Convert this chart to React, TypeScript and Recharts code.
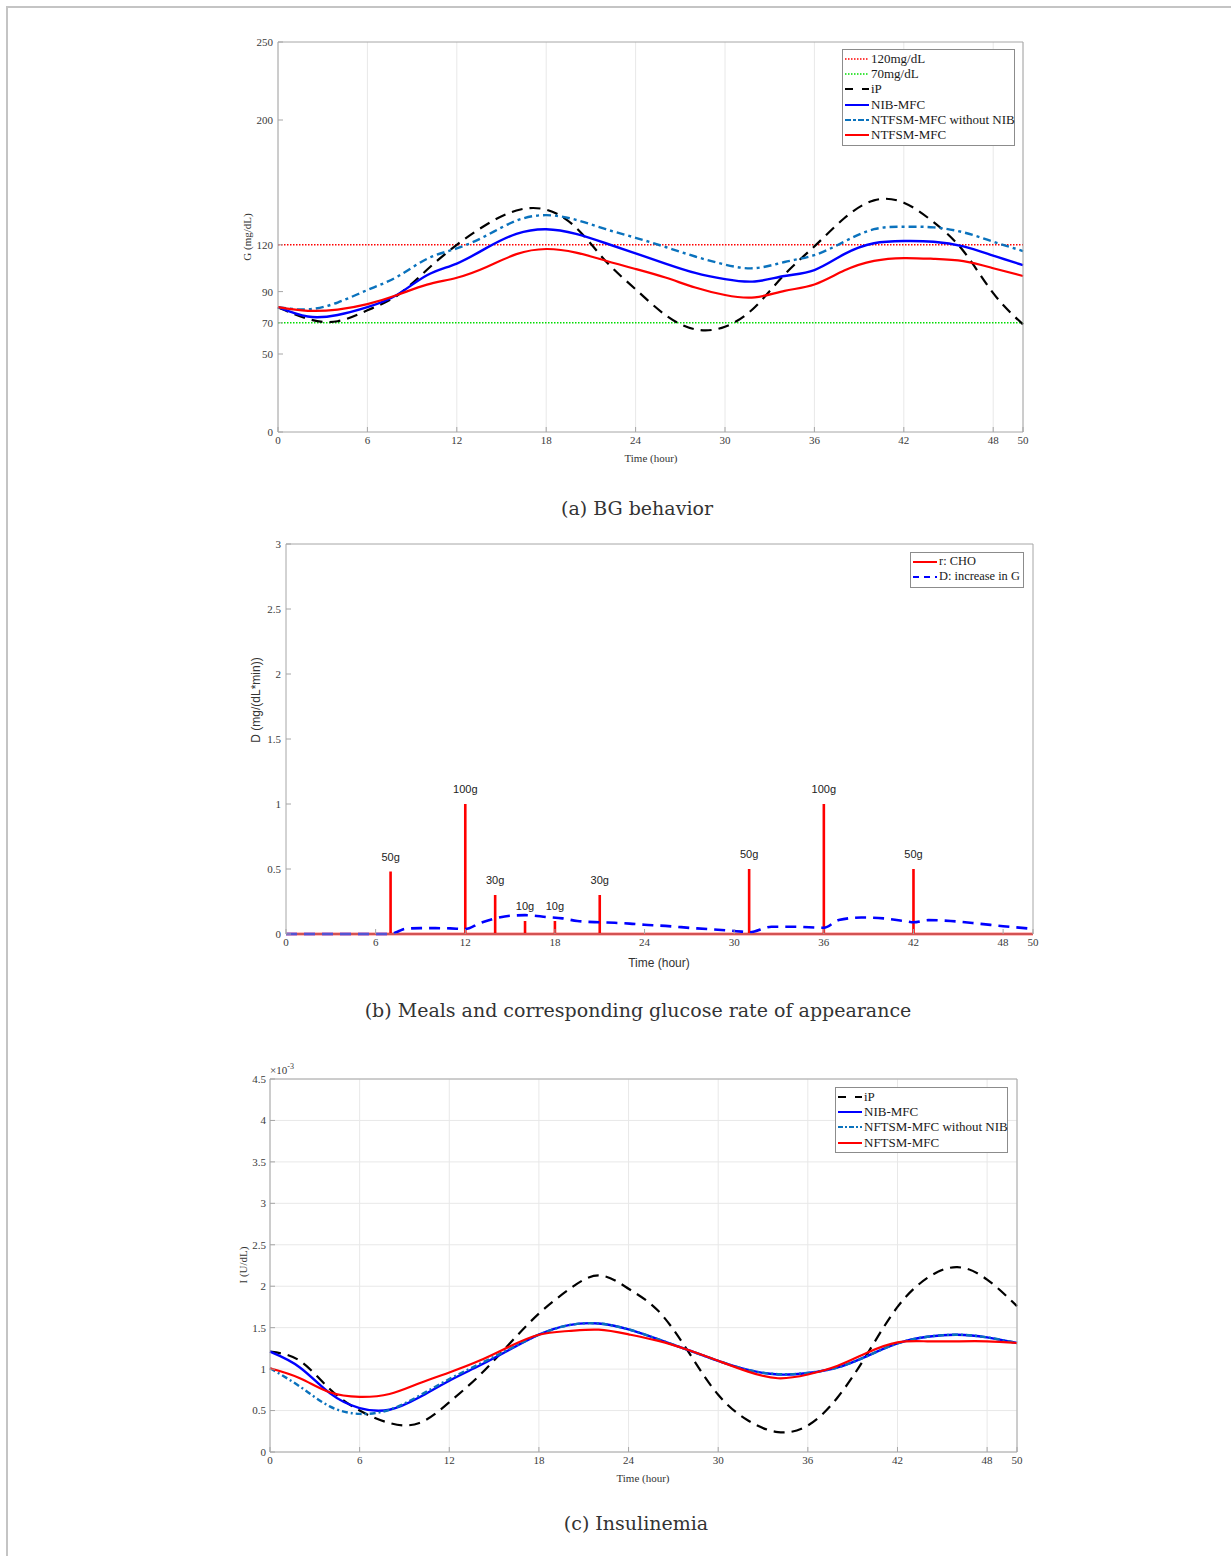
import React from 'react';
import { LineChart, Line, XAxis, YAxis, CartesianGrid, ReferenceLine, ReferenceDot } from 'recharts';

// shared time axis (hours)
const hours = [0, 2, 4, 6, 8, 10, 12, 14, 16, 18, 20, 22, 24, 26, 28, 30, 32, 34, 36, 38, 40, 42, 44, 46, 48, 50];
const xTicks = [0, 6, 12, 18, 24, 30, 36, 42, 48, 50];

// (a) BG behavior, mg/dL
const bgTicks = [0, 50, 70, 90, 120, 200, 250];
const bgIP = [80, 72.5, 71, 78, 87.5, 104, 120, 133, 142, 142.5, 131, 109.5, 91.5, 75, 65.8, 67.5, 80, 101, 119, 137, 148.5, 147, 134.5, 116, 89, 69];
const bgNIB = [80, 74, 75, 80, 88, 100.5, 108, 118, 127, 130, 127, 121, 114.5, 108, 102, 98, 96.5, 100, 103.8, 114, 121, 122.4, 122, 119, 113, 107];
const bgNoNIB = [80, 78.6, 83, 91, 99.5, 111, 117.7, 126, 135.5, 139, 136, 130, 124.5, 118.6, 112.5, 107.3, 105, 109, 113.4, 122, 130, 131.6, 131.2, 128, 122, 116];
const bgNTFSM = [80, 77.7, 78.5, 82, 87.8, 94.5, 98.9, 105.8, 114, 117.3, 115, 109.8, 104.5, 99, 92.6, 87.8, 86.3, 90.5, 94.6, 103.5, 109.7, 111.5, 111, 109.5, 105, 100];

// (b) meals (r: CHO) and glucose rate of appearance (D)
const mealTimes = [7, 12, 14, 16, 18, 21, 31, 36, 42];
const mealRates = [0.48, 1, 0.3, 0.1, 0.1, 0.3, 0.5, 1, 0.5];
const mealLabels = ['50g', '100g', '30g', '10g', '10g', '30g', '50g', '100g', '50g'];
const dTimes = [0, 7, 7.5, 8, 9, 10, 11, 12, 13, 14, 15, 16, 17.5, 18.5, 19.5, 21, 22, 23, 24, 25, 27.5, 29.5, 30.5, 31, 32.5, 34, 36, 37, 38.5, 40, 41.5, 42, 43, 44.5, 46.5, 48, 50];
const dValues = [0, 0, 0.02, 0.04, 0.045, 0.045, 0.043, 0.038, 0.085, 0.12, 0.14, 0.145, 0.13, 0.12, 0.1, 0.09, 0.086, 0.08, 0.071, 0.065, 0.043, 0.028, 0.018, 0.013, 0.056, 0.056, 0.048, 0.107, 0.127, 0.12, 0.098, 0.09, 0.107, 0.1, 0.078, 0.06, 0.04];
const dTicks = [0, 0.5, 1, 1.5, 2, 2.5, 3];

// (c) insulinemia, x10^-3 U/dL
const insTicks = [0, 0.5, 1, 1.5, 2, 2.5, 3, 3.5, 4, 4.5];
const insIP = [1.21, 1.1, 0.76, 0.5, 0.35, 0.35, 0.6, 0.92, 1.3, 1.67, 1.96, 2.13, 1.97, 1.7, 1.21, 0.69, 0.38, 0.24, 0.32, 0.66, 1.19, 1.75, 2.1, 2.23, 2.08, 1.76];
const insNIB = [1.21, 1.02, 0.71, 0.53, 0.51, 0.66, 0.86, 1.04, 1.23, 1.415, 1.53, 1.55, 1.48, 1.36, 1.23, 1.1, 0.99, 0.935, 0.953, 1.02, 1.16, 1.31, 1.39, 1.415, 1.383, 1.315];
const insNoNIB = [1.01, 0.79, 0.55, 0.46, 0.51, 0.68, 0.88, 1.06, 1.24, 1.415, 1.53, 1.55, 1.48, 1.36, 1.23, 1.1, 0.99, 0.94, 0.955, 1.02, 1.16, 1.31, 1.39, 1.415, 1.383, 1.315];
const insNFTSM = [1.01, 0.89, 0.72, 0.665, 0.7, 0.83, 0.96, 1.1, 1.27, 1.415, 1.46, 1.476, 1.42, 1.34, 1.23, 1.1, 0.97, 0.89, 0.935, 1.04, 1.2, 1.323, 1.335, 1.335, 1.335, 1.315];

const bgData = hours.map((t, i) => ({ t, iP: bgIP[i], nib: bgNIB[i], noNib: bgNoNIB[i], ntfsm: bgNTFSM[i] }));
const insData = hours.map((t, i) => ({ t, iP: insIP[i], nib: insNIB[i], noNib: insNoNIB[i], nftsm: insNFTSM[i] }));
const mealData = [{ t: 0, r: 0 }];
mealTimes.forEach((t, i) => {
  mealData.push({ t, r: 0 }, { t, r: mealRates[i] }, { t, r: 0 });
});
mealData.push({ t: 50, r: 0 });
const dData = dTimes.map((t, i) => ({ t, d: dValues[i] }));

const serif = '"Liberation Serif", "Times New Roman", serif';
const sans = '"Liberation Sans", Arial, sans-serif';
const axisColor = '#a6a6a6';
const gridColor = '#e8e8e8';
const tickStyle = { fontSize: 11, fill: '#3a3a3a', fontFamily: serif };
const CYAN = '#0a72bd';

type LegendItem = { label: string; color: string; dash?: string; width?: number };

function LegendBox({ left, top, width, items, fontSize = 13 }: { left: number; top: number; width: number; items: LegendItem[]; fontSize?: number }) {
  return (
    <div
      style={{
        position: 'absolute', left, top, width, background: '#fff',
        border: '1px solid #8c8c8c', padding: '1px 0 2px 0', fontFamily: serif, fontSize, color: '#1a1a1a',
      }}
    >
      {items.map((it) => (
        <div key={it.label} style={{ display: 'flex', alignItems: 'center', height: 15.3, whiteSpace: 'nowrap' }}>
          <svg width={26} height={8} style={{ marginLeft: 2, flex: 'none' }}>
            <line x1={0} y1={4} x2={24} y2={4} stroke={it.color} strokeWidth={it.width ?? 2} strokeDasharray={it.dash} />
          </svg>
          <span>{it.label}</span>
        </div>
      ))}
    </div>
  );
}

function Caption({ x, y, text }: { x: number; y: number; text: string }) {
  return (
    <div style={{ position: 'absolute', left: x, top: y - 12, transform: 'translateX(-50%)', fontFamily: '"DejaVu Serif", serif', fontSize: 19, color: '#333', whiteSpace: 'nowrap', lineHeight: '24px' }}>
      {text}
    </div>
  );
}

function AxisTitle({ x, y, text, rotate, font, size }: { x: number; y: number; text: string; rotate?: boolean; font: string; size: number }) {
  return (
    <div style={{ position: 'absolute', left: x, top: y, transform: `translate(-50%, -50%)${rotate ? ' rotate(-90deg)' : ''}`, fontFamily: font, fontSize: size, color: '#333', whiteSpace: 'nowrap', lineHeight: 1 }}>
      {text}
    </div>
  );
}

// MATLAB-style box: top and right axes carrying inward ticks only
function boxAxes(yDomain: number[], yTicks: number[]) {
  return [
    <XAxis key="xt" xAxisId="top" orientation="top" dataKey="t" type="number" domain={[0, 50]} ticks={xTicks} interval={0} height={1} stroke={axisColor} tickSize={-5} tick={false} allowDataOverflow />,
    <YAxis key="yr" yAxisId="right" orientation="right" type="number" domain={yDomain} ticks={yTicks} interval={0} width={1} stroke={axisColor} tickSize={-5} tick={false} allowDataOverflow />,
  ];
}

export default function App() {
  return (
    <div style={{ position: 'absolute', left: 0, top: 0, width: 1231, height: 1556, background: '#fff', overflow: 'hidden' }}>
      <div style={{ position: 'absolute', left: 6, top: 6, width: 1225, height: 1550, borderTop: '2px solid #c4c4c4', borderLeft: '2px solid #c4c4c4' }} />

      {/* (a) BG behavior */}
      <div style={{ position: 'absolute', left: 198, top: 27 }}>
        <LineChart width={855} height={435} data={bgData} margin={{ top: 14, right: 29, left: 40, bottom: 10 }}>
          <CartesianGrid horizontal={false} stroke={gridColor} />
          <XAxis dataKey="t" type="number" domain={[0, 50]} ticks={xTicks} interval={0} height={20} stroke={axisColor} tickSize={-5} tickMargin={9} tick={tickStyle} />
          <YAxis type="number" domain={[0, 250]} ticks={bgTicks} interval={0} width={40} stroke={axisColor} tickSize={-5} tickMargin={10} tick={tickStyle} />
          {boxAxes([0, 250], bgTicks)}
          <ReferenceLine y={120} stroke="#ff0000" strokeWidth={1.5} strokeDasharray="1.5 1.5" />
          <ReferenceLine y={70} stroke="#00dd00" strokeWidth={1.5} strokeDasharray="1.5 1.5" />
          <Line xAxisId="top" yAxisId="right" type="natural" dataKey="iP" stroke="none" dot={false} activeDot={false} isAnimationActive={false} />
          <Line type="natural" dataKey="iP" stroke="#000" strokeWidth={2.2} strokeDasharray="11 7" dot={false} isAnimationActive={false} />
          <Line type="natural" dataKey="nib" stroke="#0000ff" strokeWidth={2.4} dot={false} isAnimationActive={false} />
          <Line type="natural" dataKey="noNib" stroke={CYAN} strokeWidth={2.4} strokeDasharray="8 4 3 4" dot={false} isAnimationActive={false} />
          <Line type="natural" dataKey="ntfsm" stroke="#ff0000" strokeWidth={2.2} dot={false} isAnimationActive={false} />
        </LineChart>
      </div>
      <LegendBox
        left={842}
        top={49}
        width={171}
        items={[
          { label: '120mg/dL', color: '#ff0000', dash: '1.5 1.5', width: 1.5 },
          { label: '70mg/dL', color: '#00dd00', dash: '1.5 1.5', width: 1.5 },
          { label: 'iP', color: '#000', dash: '8 9' },
          { label: 'NIB-MFC', color: '#0000ff' },
          { label: 'NTFSM-MFC without NIB', color: CYAN, dash: '6 2 3 2' },
          { label: 'NTFSM-MFC', color: '#ff0000' },
        ]}
      />
      <AxisTitle x={247} y={237} text="G (mg/dL)" rotate font={serif} size={11} />
      <AxisTitle x={651} y={458} text="Time (hour)" font={serif} size={11} />
      <Caption x={637} y={508} text="(a) BG behavior" />

      {/* (b) Meals */}
      <div style={{ position: 'absolute', left: 206, top: 529 }}>
        <LineChart width={857} height={435} margin={{ top: 14, right: 29, left: 40, bottom: 10 }}>
          <XAxis dataKey="t" type="number" domain={[0, 50]} ticks={xTicks} interval={0} height={20} stroke={axisColor} tickSize={-5} tickMargin={9} tick={tickStyle} />
          <YAxis type="number" domain={[0, 3]} ticks={dTicks} interval={0} width={40} stroke={axisColor} tickSize={-5} tickMargin={10} tick={tickStyle} />
          {boxAxes([0, 3], dTicks)}
          <Line data={dData} xAxisId="top" yAxisId="right" type="linear" dataKey="d" stroke="none" dot={false} activeDot={false} isAnimationActive={false} />
          <Line data={mealData} type="linear" dataKey="r" stroke="#ff0000" strokeWidth={2.6} dot={false} isAnimationActive={false} />
          <Line data={dData} type="monotone" dataKey="d" stroke="#0000ff" strokeWidth={2.6} strokeDasharray="11 7" dot={false} isAnimationActive={false} />
          {mealTimes.map((t, i) => (
            <ReferenceDot
              key={`m${i}`}
              x={t}
              y={mealRates[i]}
              r={0}
              fill="none"
              stroke="none"
              label={{ value: mealLabels[i], position: 'top', offset: 11, fontSize: 11, fill: '#222', fontFamily: sans }}
            />
          ))}
        </LineChart>
      </div>
      <LegendBox
        left={910}
        top={552}
        width={112}
        fontSize={12.4}
        items={[
          { label: 'r: CHO', color: '#ff0000' },
          { label: 'D: increase in G', color: '#0000ff', dash: '6 5' },
        ]}
      />
      <AxisTitle x={256} y={700} text="D (mg/(dL*min))" rotate font={sans} size={12} />
      <AxisTitle x={659} y={963} text="Time (hour)" font={sans} size={12} />
      <Caption x={638} y={1010} text="(b) Meals and corresponding glucose rate of appearance" />

      {/* (c) Insulinemia */}
      <div style={{ position: 'absolute', left: 190, top: 1064 }}>
        <LineChart width={857} height={418} data={insData} margin={{ top: 14, right: 29, left: 40, bottom: 10 }}>
          <CartesianGrid stroke={gridColor} />
          <XAxis dataKey="t" type="number" domain={[0, 50]} ticks={xTicks} interval={0} height={20} stroke={axisColor} tickSize={-5} tickMargin={9} tick={tickStyle} />
          <YAxis type="number" domain={[0, 4.5]} ticks={insTicks} interval={0} width={40} stroke={axisColor} tickSize={-5} tickMargin={9} tick={tickStyle} />
          {boxAxes([0, 4.5], insTicks)}
          <Line xAxisId="top" yAxisId="right" type="natural" dataKey="iP" stroke="none" dot={false} activeDot={false} isAnimationActive={false} />
          <Line type="natural" dataKey="iP" stroke="#000" strokeWidth={2.2} strokeDasharray="11 7" dot={false} isAnimationActive={false} />
          <Line type="natural" dataKey="nib" stroke="#0000ff" strokeWidth={2.4} dot={false} isAnimationActive={false} />
          <Line type="natural" dataKey="noNib" stroke={CYAN} strokeWidth={2.4} strokeDasharray="6 3 2 3" dot={false} isAnimationActive={false} />
          <Line type="natural" dataKey="nftsm" stroke="#ff0000" strokeWidth={2.2} dot={false} isAnimationActive={false} />
        </LineChart>
      </div>
      <LegendBox
        left={835}
        top={1087}
        width={171}
        items={[
          { label: 'iP', color: '#000', dash: '8 9' },
          { label: 'NIB-MFC', color: '#0000ff' },
          { label: 'NFTSM-MFC without NIB', color: CYAN, dash: '5 2 2 2' },
          { label: 'NFTSM-MFC', color: '#ff0000' },
        ]}
      />
      <div style={{ position: 'absolute', left: 270, top: 1063, fontFamily: serif, fontSize: 11, color: '#3a3a3a', lineHeight: 1 }}>
        ×10<sup style={{ fontSize: 8 }}>-3</sup>
      </div>
      <AxisTitle x={243} y={1265} text="I (U/dL)" rotate font={serif} size={11} />
      <AxisTitle x={643} y={1478} text="Time (hour)" font={serif} size={11} />
      <Caption x={636} y={1523} text="(c) Insulinemia" />
    </div>
  );
}
